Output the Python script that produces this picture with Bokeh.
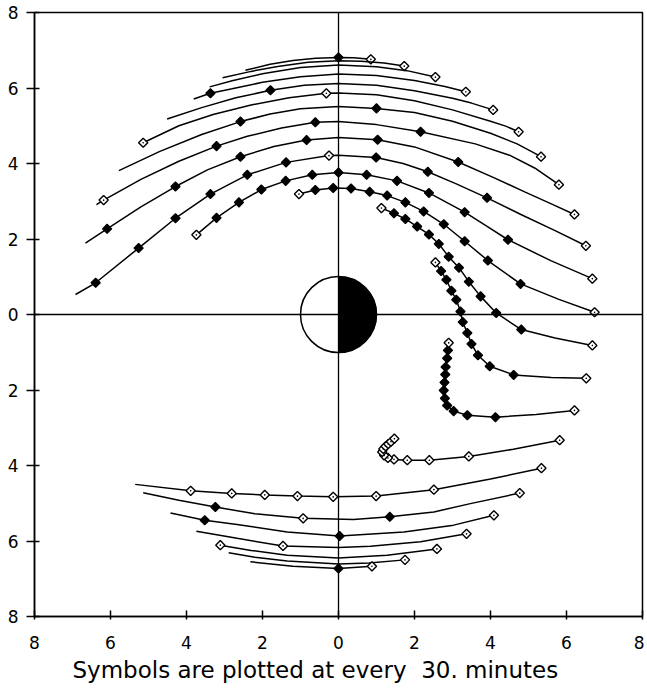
from math import pi
from bokeh.plotting import figure
from bokeh.models import Span, FixedTicker, Title
from bokeh.embed import file_html
from bokeh.resources import INLINE

# ---------------- data (x, y in planet radii; marker code 0 none, 1 filled, 2 open) ----
tick_values = [-8, -6, -4, -2, 0, 2, 4, 6, 8]
tick_labels = ["8", "6", "4", "2", "0", "2", "4", "6", "8"]
caption = "Symbols are plotted at every \u00a030. minutes"
planet_x = [0.0]
planet_y = [0.0]
planet_r = 1.0

t01_x = [0.85, 0.4, 0.0, -0.6, -1.2, -1.8, -2.45]
t01_y = [6.76, 6.80, 6.81, 6.79, 6.73, 6.63, 6.47]
t01_m = [2, 0, 1, 0, 0, 0, 0]

t02_x = [1.73, 1.2, 0.6, 0.0, -0.8, -1.6, -2.3, -3.05]
t02_y = [6.58, 6.66, 6.71, 6.72, 6.68, 6.57, 6.44, 6.27]
t02_m = [2, 0, 0, 0, 0, 0, 0, 0]

t03_x = [2.55, 1.8, 1.0, 0.0, -1.0, -2.0, -2.8, -3.39]
t03_y = [6.29, 6.46, 6.56, 6.61, 6.54, 6.38, 6.19, 6.03]
t03_m = [2, 0, 0, 0, 0, 0, 0, 0]

t04_x = [3.35, 2.8, 2.0, 1.0, 0.0, -1.0, -2.0, -2.8, -3.37, -3.81]
t04_y = [5.90, 6.04, 6.20, 6.33, 6.37, 6.30, 6.15, 5.98, 5.86, 5.71]
t04_m = [2, 0, 0, 0, 0, 0, 0, 0, 1, 0]

t05_x = [4.07, 3.5, 3.0, 2.0, 1.0, 0.0, -0.9, -1.79, -2.7, -3.6, -4.51]
t05_y = [5.42, 5.60, 5.73, 5.93, 6.07, 6.12, 6.07, 5.94, 5.74, 5.48, 5.18]
t05_m = [2, 0, 0, 0, 0, 0, 0, 1, 0, 0, 0]

t06_x = [4.74, 4.4, 4.0, 3.0, 2.0, 1.0, 0.0, -0.32, -1.3, -2.3, -3.3, -4.2, -5.14]
t06_y = [4.84, 4.99, 5.12, 5.42, 5.66, 5.82, 5.87, 5.86, 5.74, 5.55, 5.30, 5.00, 4.55]
t06_m = [2, 0, 0, 0, 0, 0, 0, 2, 0, 0, 0, 0, 2]

t07_x = [5.33, 4.7, 4.0, 3.0, 2.0, 1.0, 0.0, -1.0, -1.8, -2.58, -3.6, -4.7, -5.78]
t07_y = [4.18, 4.52, 4.80, 5.12, 5.35, 5.46, 5.51, 5.45, 5.31, 5.11, 4.77, 4.32, 3.81]
t07_m = [2, 0, 0, 0, 0, 1, 0, 0, 0, 1, 0, 0, 0]

t08_x = [5.80, 5.2, 4.5, 3.6, 2.16, 1.0, 0.0, -0.61, -1.5, -2.4, -3.21, -4.2, -5.2, -6.18, -6.37]
t08_y = [3.44, 3.86, 4.22, 4.52, 4.84, 5.03, 5.11, 5.09, 4.94, 4.72, 4.46, 4.06, 3.58, 3.03, 2.91]
t08_m = [2, 0, 0, 0, 1, 0, 0, 1, 0, 0, 1, 0, 0, 2, 0]

t09_x = [6.21, 5.6, 4.9, 4.1, 3.15, 2.0, 1.03, 0.0, -0.84, -1.7, -2.58, -3.45, -4.29, -5.2, -6.09, -6.66]
t09_y = [2.65, 2.93, 3.25, 3.62, 4.04, 4.44, 4.63, 4.69, 4.62, 4.45, 4.18, 3.83, 3.39, 2.85, 2.27, 1.89]
t09_m = [2, 0, 0, 0, 1, 0, 1, 0, 1, 0, 1, 0, 1, 0, 1, 0]

t10_x = [6.51, 5.7, 4.8, 3.91, 3.1, 2.35, 1.7, 0.99, 0.0, -0.25, -1.38, -2.40, -3.37, -4.29, -5.26, -6.39, -6.92]
t10_y = [1.82, 2.22, 2.65, 3.09, 3.46, 3.78, 4.00, 4.16, 4.22, 4.21, 4.03, 3.70, 3.19, 2.55, 1.76, 0.84, 0.53]
t10_m = [2, 0, 0, 1, 0, 1, 0, 1, 0, 2, 1, 1, 1, 1, 1, 1, 0]

t11_x = [6.68, 5.6, 4.46, 3.9, 3.32, 2.38, 1.54, 0.74, 0.0, -0.69, -1.39, -2.03, -2.62, -3.21, -3.74]
t11_y = [0.95, 1.42, 1.98, 2.34, 2.71, 3.22, 3.54, 3.70, 3.76, 3.70, 3.54, 3.31, 2.97, 2.56, 2.11]
t11_m = [2, 0, 1, 0, 1, 1, 1, 1, 1, 1, 1, 1, 1, 1, 2]

t12_x = [6.74, 5.8, 4.79, 3.93, 3.32, 2.77, 2.24, 1.76, 1.28, 0.82, 0.33, -0.14, -0.61, -1.04]
t12_y = [0.06, 0.40, 0.81, 1.43, 1.94, 2.39, 2.73, 2.97, 3.15, 3.25, 3.34, 3.35, 3.30, 3.19]
t12_m = [2, 0, 1, 1, 1, 1, 1, 1, 1, 1, 1, 1, 1, 2]

t13_x = [6.68, 5.7, 4.81, 4.15, 3.74, 3.43, 3.17, 2.90, 2.64, 2.38, 2.07, 1.76, 1.46, 1.13]
t13_y = [-0.82, -0.62, -0.40, 0.04, 0.48, 0.87, 1.24, 1.53, 1.87, 2.12, 2.33, 2.53, 2.68, 2.82]
t13_m = [2, 0, 1, 1, 1, 1, 1, 1, 1, 1, 1, 1, 1, 2]

t14_x = [6.52, 5.6, 4.61, 3.98, 3.67, 3.50, 3.39, 3.27, 3.21, 3.10, 2.97, 2.84, 2.70, 2.55]
t14_y = [-1.69, -1.67, -1.60, -1.37, -1.08, -0.78, -0.49, -0.20, 0.08, 0.39, 0.63, 0.92, 1.15, 1.38]
t14_m = [2, 0, 1, 1, 1, 1, 1, 1, 1, 1, 1, 1, 1, 2]

t15_x = [6.21, 5.2, 4.13, 3.39, 3.03, 2.86, 2.80, 2.77, 2.79, 2.81, 2.82, 2.86, 2.88, 2.90]
t15_y = [-2.54, -2.65, -2.72, -2.67, -2.56, -2.41, -2.22, -2.01, -1.80, -1.59, -1.39, -1.16, -0.95, -0.75]
t15_m = [2, 0, 1, 1, 1, 1, 1, 1, 1, 1, 1, 1, 1, 2]

t16_x = [5.82, 4.6, 3.43, 2.39, 1.81, 1.46, 1.30, 1.20, 1.15, 1.18, 1.24, 1.31, 1.38, 1.47]
t16_y = [-3.33, -3.57, -3.76, -3.86, -3.86, -3.84, -3.80, -3.73, -3.64, -3.56, -3.49, -3.43, -3.37, -3.29]
t16_m = [2, 0, 2, 2, 2, 2, 2, 2, 2, 2, 2, 2, 2, 2]

t17_x = [5.34, 4.0, 2.51, 0.99, -0.14, -1.08, -1.94, -2.81, -3.89, -5.35]
t17_y = [-4.07, -4.36, -4.64, -4.81, -4.83, -4.81, -4.78, -4.74, -4.67, -4.50]
t17_m = [2, 0, 2, 2, 2, 2, 2, 2, 2, 0]

t18_x = [4.77, 3.47, 2.51, 1.35, 0.40, -0.93, -2.2, -3.24, -4.2, -5.14]
t18_y = [-4.73, -5.01, -5.23, -5.36, -5.43, -5.40, -5.28, -5.10, -4.92, -4.72]
t18_m = [2, 0, 0, 1, 0, 2, 0, 1, 0, 0]

t19_x = [4.09, 3.03, 1.72, 0.03, -1.35, -2.67, -3.52, -4.42]
t19_y = [-5.32, -5.58, -5.76, -5.87, -5.76, -5.56, -5.45, -5.26]
t19_m = [2, 0, 0, 1, 0, 0, 1, 0]

t20_x = [3.37, 2.16, 0.84, 0.0, -1.46, -2.67, -3.74]
t20_y = [-5.81, -6.02, -6.14, -6.17, -6.13, -5.93, -5.74]
t20_m = [2, 0, 0, 0, 2, 0, 0]

t21_x = [2.59, 1.28, 0.0, -1.35, -2.3, -3.11]
t21_y = [-6.21, -6.38, -6.45, -6.38, -6.25, -6.11]
t21_m = [2, 0, 0, 0, 0, 2]

t22_x = [1.75, 0.8, 0.0, -1.35, -2.2, -2.89]
t22_y = [-6.50, -6.58, -6.61, -6.53, -6.43, -6.31]
t22_m = [2, 0, 0, 0, 0, 0]

t23_x = [0.88, 0.0, -1.2, -2.32]
t23_y = [-6.67, -6.73, -6.67, -6.55]
t23_m = [2, 1, 0, 0]

trajectories = [
    (t01_x, t01_y, t01_m), (t02_x, t02_y, t02_m), (t03_x, t03_y, t03_m),
    (t04_x, t04_y, t04_m), (t05_x, t05_y, t05_m), (t06_x, t06_y, t06_m),
    (t07_x, t07_y, t07_m), (t08_x, t08_y, t08_m), (t09_x, t09_y, t09_m),
    (t10_x, t10_y, t10_m), (t11_x, t11_y, t11_m), (t12_x, t12_y, t12_m),
    (t13_x, t13_y, t13_m), (t14_x, t14_y, t14_m), (t15_x, t15_y, t15_m),
    (t16_x, t16_y, t16_m), (t17_x, t17_y, t17_m), (t18_x, t18_y, t18_m),
    (t19_x, t19_y, t19_m), (t20_x, t20_y, t20_m), (t21_x, t21_y, t21_m),
    (t22_x, t22_y, t22_m), (t23_x, t23_y, t23_m),
]

# ---------------- figure ----------------
FONT = "DejaVu Sans"
p = figure(width=644, height=688, x_range=(-8, 8), y_range=(-8, 8),
           output_backend="svg", toolbar_location=None,
           min_border_left=34, min_border_right=2, min_border_top=12, min_border_bottom=72)
p.background_fill_color = "white"
p.border_fill_color = "white"
p.grid.visible = False
p.outline_line_color = "black"
p.outline_line_width = 1.5

overrides = {v: lab for v, lab in zip(tick_values, tick_labels)}
for ax in (p.xaxis[0], p.yaxis[0]):
    ax.ticker = FixedTicker(ticks=tick_values, minor_ticks=[])
    ax.major_label_overrides = overrides
    ax.axis_line_color = "black"
    ax.axis_line_width = 1.5
    ax.major_tick_line_color = "black"
    ax.major_tick_line_width = 1.5
    ax.minor_tick_line_color = None
    ax.major_label_text_font = FONT
    ax.major_label_text_font_size = "17px"
    ax.major_label_text_color = "black"

p.xaxis.major_tick_in = 6
p.xaxis.major_tick_out = 3
p.xaxis.major_label_standoff = 16
p.yaxis.major_tick_in = 5
p.yaxis.major_tick_out = 8
p.yaxis.major_label_standoff = 8

cap = Title(text=caption, align="left", offset=38, standoff=6,
            text_font=FONT, text_font_size="23px", text_font_style="normal",
            text_color="black")
p.add_layout(cap, "below")

# planet: day side white, night side black
p.circle(x=planet_x, y=planet_y, radius=planet_r, fill_color="white",
         line_color="black", line_width=1.5)
p.wedge(x=planet_x, y=planet_y, radius=planet_r, start_angle=-pi / 2, end_angle=pi / 2,
        direction="anticlock", fill_color="black", line_color="black", line_width=1.0)

p.add_layout(Span(location=0, dimension="width", line_color="black", line_width=1.3))
p.add_layout(Span(location=0, dimension="height", line_color="black", line_width=1.3))

for xs, ys, ms in trajectories:
    p.line(xs, ys, line_color="black", line_width=1.5)
    fx = [x for x, m in zip(xs, ms) if m == 1]
    fy = [y for y, m in zip(ys, ms) if m == 1]
    ox = [x for x, m in zip(xs, ms) if m == 2]
    oy = [y for y, m in zip(ys, ms) if m == 2]
    if fx:
        p.scatter(fx, fy, marker="square", angle=pi / 4, size=6.5, fill_color="black",
                  line_color="black", line_width=1.2)
    if ox:
        p.scatter(ox, oy, marker="square_dot", angle=pi / 4, size=6.5, fill_color="white",
                  line_color="black", line_width=1.4)

open("out.html", "w").write(file_html(p, INLINE))
